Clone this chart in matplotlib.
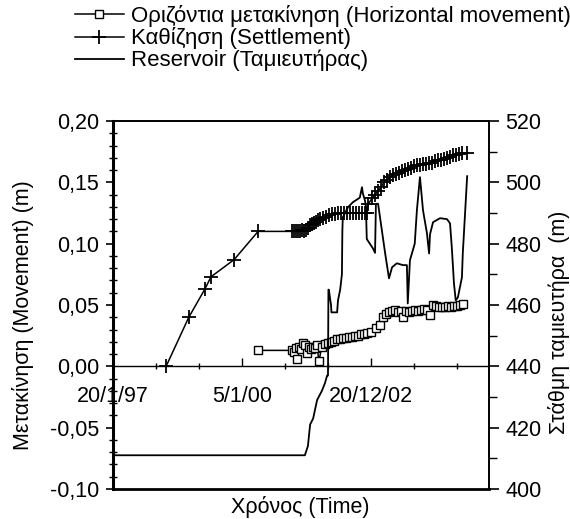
import numpy as np
import pandas as pd
import matplotlib
matplotlib.use("Agg")
import matplotlib.pyplot as plt
import matplotlib.dates as mdates
from matplotlib.ticker import MultipleLocator, FixedLocator

plt.rcParams['font.family'] = ['Liberation Sans', 'DejaVu Sans']

# time in decimal years
settle_year = [1998.27, 1998.79, 1999.16, 1999.30, 1999.83, 2000.38,
               2001.15, 2001.20, 2001.25, 2001.29, 2001.34, 2001.38, 2001.43, 2001.48, 2001.52, 2001.57,
               2001.61, 2001.66, 2001.70, 2001.75, 2001.80, 2001.87, 2001.93, 2002.00, 2002.07, 2002.14,
               2002.21, 2002.28, 2002.35, 2002.42, 2002.48, 2002.55, 2002.62, 2002.69, 2002.76, 2002.83, 2002.87,
               2002.90, 2002.99, 2003.06, 2003.13, 2003.20, 2003.26, 2003.33, 2003.40, 2003.47, 2003.54,
               2003.61, 2003.68, 2003.74, 2003.81, 2003.88, 2003.95, 2004.02, 2004.09, 2004.16, 2004.23,
               2004.30, 2004.36, 2004.43, 2004.50, 2004.57, 2004.64, 2004.71, 2004.78, 2004.85, 2004.91,
               2004.98, 2005.05, 2005.17]
settle_val = [0.000, 0.040, 0.063, 0.073, 0.087, 0.110,
              0.110, 0.110, 0.110, 0.110, 0.110, 0.111, 0.110, 0.111, 0.113, 0.115,
              0.116, 0.117, 0.118, 0.119, 0.120, 0.121, 0.122, 0.123, 0.124, 0.124,
              0.125, 0.125, 0.125, 0.125, 0.125, 0.125, 0.125, 0.125, 0.125, 0.125, 0.125,
              0.132, 0.137, 0.140, 0.143, 0.146, 0.150, 0.152, 0.154, 0.156, 0.157,
              0.158, 0.159, 0.160, 0.161, 0.162, 0.163, 0.164, 0.164, 0.165, 0.165,
              0.166, 0.166, 0.167, 0.168, 0.168, 0.169, 0.170, 0.171, 0.172, 0.172,
              0.173, 0.174, 0.174]

horiz_year = [2000.38, 2001.15, 2001.20, 2001.25, 2001.27, 2001.31, 2001.36, 2001.40, 2001.45, 2001.50,
              2001.54, 2001.59, 2001.64, 2001.68, 2001.73, 2001.77, 2001.84, 2001.91, 2001.98, 2002.05,
              2002.12, 2002.19, 2002.26, 2002.32, 2002.39, 2002.46, 2002.53, 2002.60, 2002.67, 2002.74,
              2002.81, 2002.87, 2002.97, 2003.08, 2003.17, 2003.24, 2003.31, 2003.38, 2003.45, 2003.52,
              2003.58, 2003.65, 2003.70, 2003.77, 2003.84, 2003.91, 2003.97, 2004.04, 2004.11, 2004.18,
              2004.25, 2004.32, 2004.39, 2004.46, 2004.52, 2004.59, 2004.66, 2004.73, 2004.80, 2004.87,
              2004.94, 2005.01, 2005.07]
horiz_val = [0.013, 0.013, 0.012, 0.015, 0.006, 0.016, 0.014, 0.019, 0.017, 0.011,
             0.016, 0.014, 0.016, 0.015, 0.017, 0.004, 0.016, 0.018, 0.019, 0.020,
             0.021, 0.022, 0.022, 0.023, 0.023, 0.024, 0.024, 0.025, 0.025, 0.026,
             0.026, 0.027, 0.028, 0.031, 0.034, 0.040, 0.043, 0.044, 0.045, 0.046,
             0.044, 0.045, 0.040, 0.045, 0.044, 0.045, 0.046, 0.045, 0.046, 0.047,
             0.046, 0.042, 0.050, 0.049, 0.048, 0.048, 0.048, 0.049, 0.048, 0.049,
             0.049, 0.050, 0.051]

res_year = [1997.05, 2001.45, 2001.52, 2001.57, 2001.64, 2001.73, 2001.84, 2001.91, 2001.96, 2001.98,
            2001.99, 2002.00, 2002.05, 2002.06, 2002.19, 2002.21, 2002.26, 2002.30, 2002.31, 2002.32,
            2002.44, 2002.55, 2002.71, 2002.76, 2002.78, 2002.83, 2002.85, 2002.87, 2002.94, 2003.01,
            2003.06, 2003.08, 2003.13, 2003.22, 2003.29, 2003.38, 2003.45, 2003.56, 2003.70, 2003.79,
            2003.81, 2003.86, 2003.97, 2004.02, 2004.09, 2004.16, 2004.25, 2004.30, 2004.32, 2004.39,
            2004.55, 2004.71, 2004.78, 2004.82, 2004.87, 2004.91, 2004.96, 2005.05, 2005.07, 2005.17]
res_val = [411, 411, 414, 421, 423, 429, 432, 434.5, 437, 437,
           465, 465, 460, 457.6, 457.6, 461.5, 465, 470, 484, 488.6,
           491.9, 493.5, 495, 498.4, 496.4, 494, 492, 481.5, 480, 478.5,
           477, 493, 493, 484, 477, 468.7, 472.3, 473.6, 473, 473,
           460.5, 474.6, 480, 490.9, 501.7, 490.9, 483.4, 476.8, 483, 487,
           488.3, 488, 486.6, 478.8, 467, 461.5, 462.5, 469, 476.8, 502]

xtick_labels = ['20/1/97', '5/1/00', '20/12/02']
x_start = '1997-01-20'
x_span_days = 3148
minor_days = 360

labels = ['Οριζόντια μετακίνηση (Horizontal movement)',
          'Καθίζηση (Settlement)',
          'Reservoir (Ταμιευτήρας)']

FS = 15.5


def to_dates(years):
    out = []
    for y in years:
        yr = int(y)
        out.append(pd.Timestamp(yr, 1, 1) + pd.Timedelta(days=(y - yr) * 365.25))
    return mdates.date2num(out)


fig = plt.figure(figsize=(5.7, 5.19), dpi=100)
ax = fig.add_axes([113 / 570, 1 - 489 / 519, 376 / 570, 368 / 519])
ax2 = ax.twinx()

l1, = ax.plot(to_dates(horiz_year), horiz_val, color='k', lw=1.1, marker='s', ms=5.5,
              mfc='white', mec='k', mew=1.0)
l2, = ax.plot(to_dates(settle_year), settle_val, color='k', lw=1.1, marker='+', ms=10, mew=1.3)
l3, = ax2.plot(to_dates(res_year), res_val, color='k', lw=1.3)

t0 = pd.Timestamp(x_start)
ax.set_xlim(mdates.date2num(t0), mdates.date2num(t0 + pd.Timedelta(days=x_span_days)))
major_pos = mdates.date2num(pd.to_datetime(xtick_labels, format='%d/%m/%y'))
ax.set_xticks(major_pos)
ax.set_xticklabels(xtick_labels)
minor_pos = mdates.date2num([t0 + pd.Timedelta(days=minor_days * k) for k in range(10)])
ax.xaxis.set_minor_locator(FixedLocator(minor_pos))

ax.set_ylim(-0.10, 0.20)
yt = np.arange(-0.10, 0.2001, 0.05)
ax.set_yticks(yt)
ax.set_yticklabels([f"{v:.2f}".replace('.', ',') for v in yt])
ax.yaxis.set_minor_locator(MultipleLocator(0.01))

ax2.set_ylim(400, 520)
ax2.set_yticks(np.arange(400, 521, 20))
ax2.yaxis.set_minor_locator(MultipleLocator(10))

ax.spines['bottom'].set_position(('data', 0))
ax.spines['bottom'].set_linewidth(1.0)
ax.spines['left'].set_linewidth(2.2)
ax.spines['top'].set_linewidth(1.4)
ax.spines['right'].set_visible(False)
for s in ['left', 'top']:
    ax2.spines[s].set_visible(False)
ax2.spines['bottom'].set_linewidth(2.0)
ax2.spines['right'].set_linewidth(1.4)

ax.tick_params(axis='x', which='major', direction='in', length=6, width=1, pad=14, labelsize=FS)
ax.tick_params(axis='x', which='minor', direction='inout', length=5, width=1)
ax.tick_params(axis='y', which='major', direction='out', length=5, width=1.2, pad=5, labelsize=FS)
ax.tick_params(axis='y', which='minor', direction='inout', length=6, width=1)
ax2.tick_params(axis='y', which='major', direction='out', length=7, width=1.2, pad=5, labelsize=FS)
ax2.tick_params(axis='y', which='minor', direction='out', length=6, width=1)

fig.legend([l1, l2, l3], labels, loc='upper left', bbox_to_anchor=(75 / 570, 1 - 5 / 519),
           frameon=False, fontsize=16, handlelength=2.2, handletextpad=0.3,
           labelspacing=0.02, borderaxespad=0, borderpad=0)

fig.text(12 / 570, 1 - 315 / 519, 'Μετακίνηση (Movement) (m)', rotation=90,
         ha='left', va='center', fontsize=FS)
fig.text(548 / 570, 1 - 322 / 519, 'Στάθμη ταμιευτήρα  (m)', rotation=90,
         ha='left', va='center', fontsize=FS)
fig.text(300 / 570, 1 - 507 / 519, 'Χρόνος (Time)', ha='center', va='center', fontsize=FS)

fig.savefig('out.png', dpi=100)
